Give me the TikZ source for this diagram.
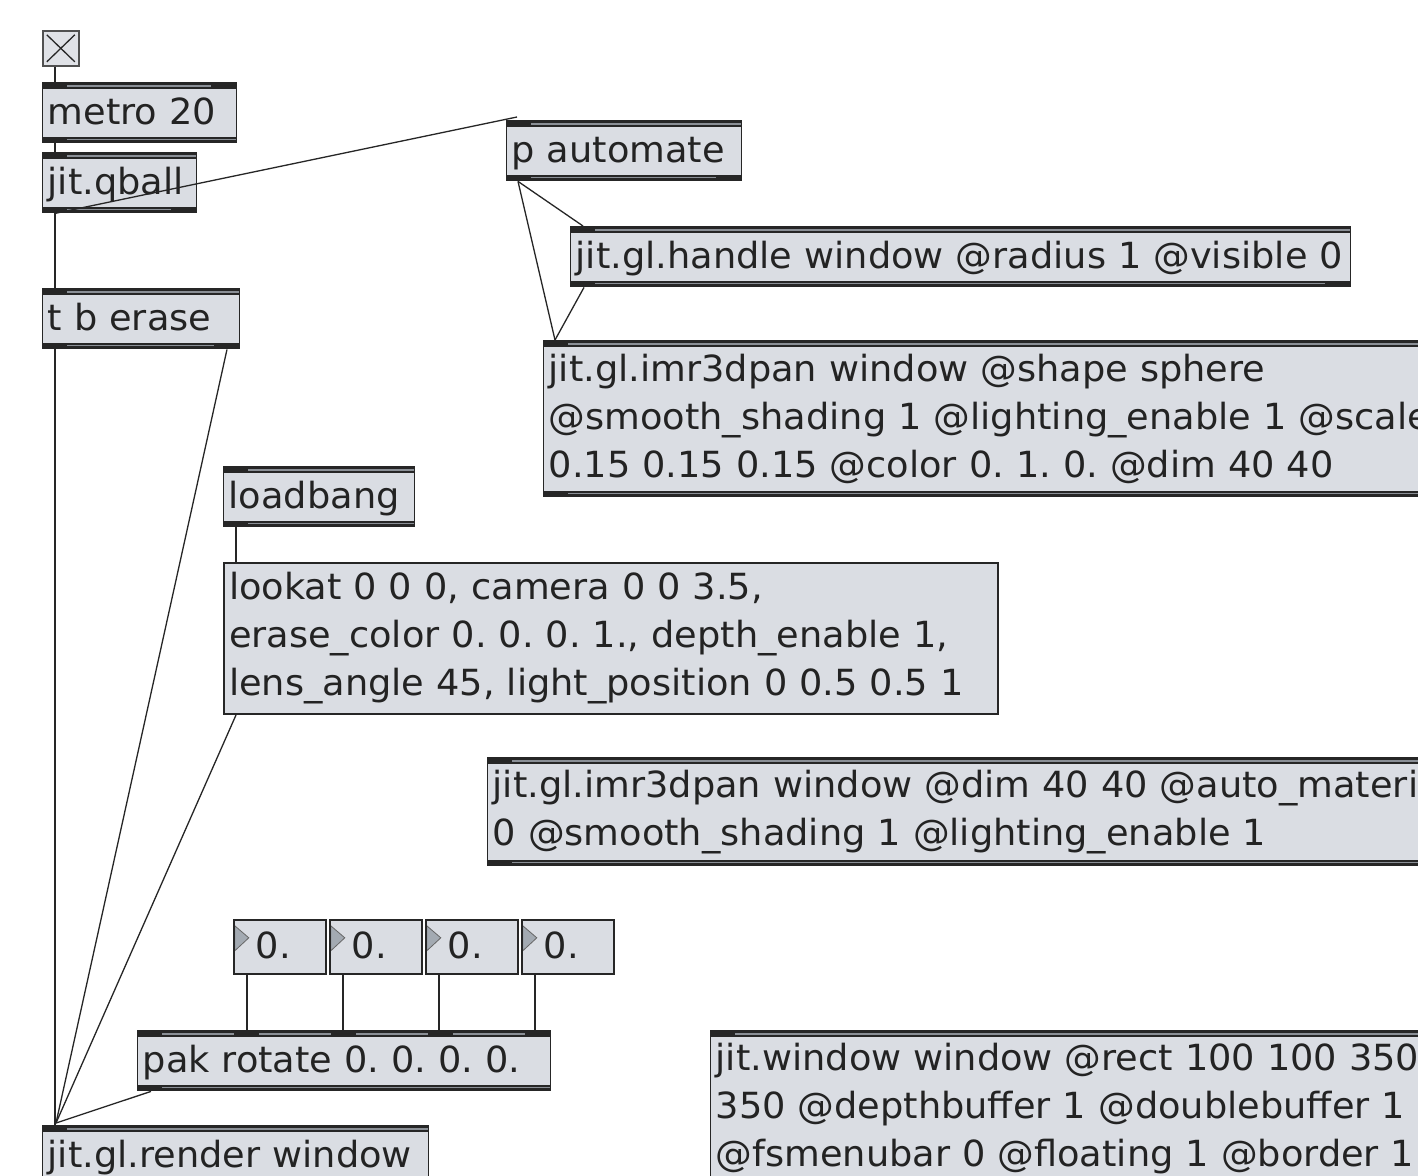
\documentclass[tikz,border=0pt]{standalone}
\usepackage{fontspec}
\newfontfamily\patchfont[FakeStretch=1.02]{DejaVu Sans}
\definecolor{boxfill}{RGB}{218,221,227}
\definecolor{edge}{RGB}{38,38,38}
\definecolor{band}{RGB}{138,143,150}
\definecolor{ink}{RGB}{35,35,35}
\definecolor{tri}{RGB}{163,170,178}

\tikzset{
  patchtext/.style={text=ink, font=\patchfont\fontsize{36}{48}\selectfont\frenchspacing},
  oneline/.style={text height=27, text depth=3},
  obj/.style={draw=edge, line width=1.4, fill=boxfill, anchor=north west,
    inner xsep=5, inner ysep=0, minimum height=60, align=left, patchtext,
    path picture={
      \fill[edge] (path picture bounding box.north west) rectangle ([yshift=-6pt]path picture bounding box.north east);
      \fill[band] ([yshift=-2.5pt]path picture bounding box.north west) rectangle ([yshift=-4pt]path picture bounding box.north east);
      \fill[edge] (path picture bounding box.south west) rectangle ([yshift=6pt]path picture bounding box.south east);
      \fill[band] ([yshift=2.5pt]path picture bounding box.south west) rectangle ([yshift=4pt]path picture bounding box.south east);
    }},
  msgbox/.style={draw=edge, line width=2, fill=boxfill, anchor=north west,
    inner xsep=5, inner ysep=0, align=left, patchtext},
  numbox/.style={draw=edge, line width=1.6, fill=boxfill, anchor=north west,
    inner xsep=22, inner ysep=0, text width=48, minimum height=54, align=left,
    patchtext, oneline,
    path picture={
      \fill[tri, draw=edge!70, line width=0.8] ([xshift=1pt,yshift=-6pt]path picture bounding box.north west)
        -- ([xshift=15pt,yshift=-18pt]path picture bounding box.north west)
        -- ([xshift=1pt,yshift=-31pt]path picture bounding box.north west) -- cycle;
    }},
  togglebox/.style={draw=edge!80, line width=1.6, fill=boxfill!85!white, anchor=north west,
    minimum width=36, minimum height=35, inner sep=0,
    path picture={
      \draw[edge, line width=1.3] ([xshift=4pt,yshift=-4pt]path picture bounding box.north west) -- ([xshift=-4pt,yshift=4pt]path picture bounding box.south east);
      \draw[edge, line width=1.3] ([xshift=-4pt,yshift=-4pt]path picture bounding box.north east) -- ([xshift=4pt,yshift=4pt]path picture bounding box.south west);
    }},
  cord/.style={draw=edge, line width=1.3}
}

% dark inlet / outlet blocks on an object box
\newcommand{\inlets}[2]{\foreach \p in {#2} {\fill[edge] ([xshift=\p pt]#1.north west) rectangle ++(25,6);}}
\newcommand{\outlets}[2]{\foreach \p in {#2} {\fill[edge] ([xshift=\p pt]#1.south west) rectangle ++(25,-6);}}

\begin{document}
\begin{tikzpicture}[x=1pt,y=-1pt]
\useasboundingbox[fill=white] (0,0) rectangle (1418,1175);
\clip (0,0) rectangle (1418,1175);

% toggle and timing
\node[togglebox] (tog) at (42,30) {};
\node[obj, oneline, text width=184] (metro) at (42,82) {metro 20};
\node[obj, oneline, text width=144] (qball) at (42,152) {jit.qball};
\node[obj, oneline, text width=187] (tberase) at (42,288) {t b erase};

% automation
\node[obj, oneline, text width=225] (automate) at (506,120) {p automate};
\node[obj, oneline, text width=770] (handle) at (570,226) {jit.gl.handle window @radius 1 @visible 0};
\node[obj, text width=1100, minimum height=156] (sphere) at (543,340)
  {jit.gl.imr3dpan window @shape sphere\\@smooth\_shading 1 @lighting\_enable 1 @scale 0.15\\0.15 0.15 0.15 @color 0. 1. 0. @dim 40 40};

% camera setup
\node[obj, oneline, text width=181] (loadbang) at (223,466) {loadbang};
\node[msgbox, text width=764, minimum height=151] (camera) at (223,562)
  {lookat 0 0 0, camera 0 0 3.5,\\erase\_color 0. 0. 0. 1., depth\_enable 1,\\lens\_angle 45, light\_position 0 0.5 0.5 1};

\node[obj, text width=1150, minimum height=108] (plane) at (487,757)
  {jit.gl.imr3dpan window @dim 40 40 @auto\_material\\0 @smooth\_shading 1 @lighting\_enable 1};

% rotation
\foreach \i/\x in {1/233, 2/329, 3/425, 4/521} {
  \node[numbox] (num\i) at (\x,919) {0.};
}
\node[obj, oneline, text width=403] (pak) at (137,1030) {pak rotate 0. 0. 0. 0.};

% render / window
\node[obj, oneline, text width=376] (render) at (42,1125) {jit.gl.render window};
\node[obj, text width=1000, minimum height=156] (window) at (710,1030)
  {jit.window window @rect 100 100 350\\350 @depthbuffer 1 @doublebuffer 1\\@fsmenubar 0 @floating 1 @border 1};

% ports
\inlets{metro}{0,169} \outlets{metro}{0}
\inlets{qball}{0} \outlets{qball}{0,129}
\inlets{tberase}{0} \outlets{tberase}{0,172}
\inlets{automate}{0} \outlets{automate}{0,210}
\inlets{handle}{0} \outlets{handle}{0,755}
\inlets{sphere}{0} \outlets{sphere}{0}
\inlets{loadbang}{0} \outlets{loadbang}{0}
\inlets{plane}{0} \outlets{plane}{0}
\inlets{pak}{0,97,194,291,388} \outlets{pak}{0}
\inlets{render}{0}
\inlets{window}{0}

% connections
\coordinate (rin) at ([xshift=14pt,yshift=2pt]render.north west);
\draw[cord] ([xshift=13pt]tog.south west) -- ([xshift=13pt]metro.north west);
\draw[cord] ([xshift=13pt]metro.south west) -- ([xshift=13pt]qball.north west);
\draw[cord] ([xshift=13pt]qball.south west) -- ([xshift=13pt]tberase.north west);
\draw[cord] ([xshift=13pt]qball.south west) -- ([xshift=11pt,yshift=3pt]automate.north west);
\draw[cord] ([xshift=12pt]automate.south west) -- ([xshift=13pt]handle.north west);
\draw[cord] ([xshift=12pt]automate.south west) -- ([xshift=12pt]sphere.north west);
\draw[cord] ([xshift=14pt]handle.south west) -- ([xshift=12pt]sphere.north west);
\draw[cord] ([xshift=13pt]tberase.south west) -- ([xshift=13pt]render.north west);
\draw[cord] ([xshift=185pt]tberase.south west) -- (rin);
\draw[cord] ([xshift=13pt]loadbang.south west) -- ([xshift=13pt]camera.north west);
\draw[cord] ([xshift=13pt]camera.south west) -- (rin);
\foreach \i in {1,...,4} {
  \draw[cord] ([xshift=14pt]num\i.south west) -- ([xshift=14pt]num\i.south west |- pak.north);
}
\draw[cord] ([xshift=14pt]pak.south west) -- (rin);

\end{tikzpicture}
\end{document}
